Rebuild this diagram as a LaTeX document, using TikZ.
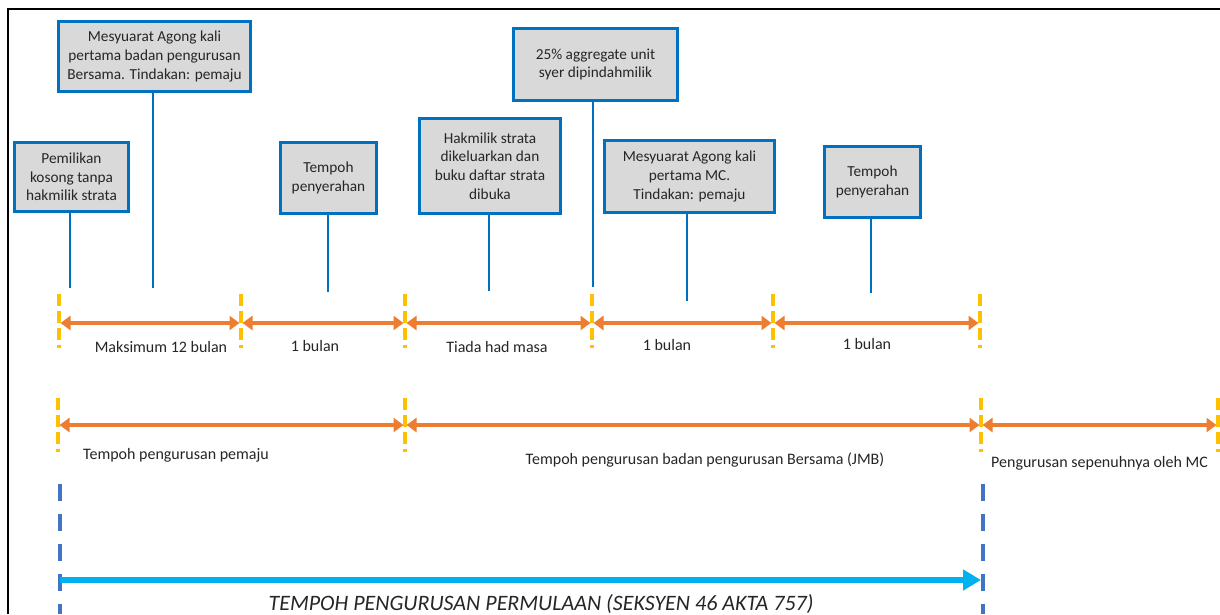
\documentclass[tikz,border=0pt]{standalone}
\usepackage{fontspec}
\setmainfont{Carlito}
\usetikzlibrary{arrows.meta}
\definecolor{boxblue}{HTML}{0070C0}
\definecolor{boxgray}{HTML}{D9D9D9}
\definecolor{orng}{HTML}{ED7D31}
\definecolor{gold}{HTML}{FFC000}
\definecolor{dblue}{HTML}{4472C4}
\definecolor{cyanb}{HTML}{00B0F0}
\definecolor{txt}{HTML}{262626}
\tikzset{
  evbox/.style={draw=boxblue, line width=3pt, fill=boxgray, align=center, inner sep=0pt,
    font=\fontsize{15.3}{18.7}\selectfont, text=txt},
  stem/.style={draw=boxblue, line width=2.8pt},
  tick/.style={draw=gold, line width=3.5pt, dash pattern=on 12pt off 5pt},
  span/.style={draw=orng, line width=3.5pt, {Triangle[length=10pt,width=14pt]}-{Triangle[length=10pt,width=14pt]}, shorten <=1.5pt, shorten >=1.5pt},
  lbl/.style={font=\fontsize{16}{18}\selectfont, text=txt, inner sep=0pt},
  bigtick/.style={draw=dblue, line width=4pt, dash pattern=on 17pt off 13pt},
}
\begin{document}
\begin{tikzpicture}[x=1pt,y=-1pt]
\useasboundingbox (0,0) rectangle (1220,614);
\fill[white] (0,0) rectangle (1220,614);
% frame
\draw[line width=1.2pt, black] (8,614) -- (8,9) -- (1220,9);

% boxes
\node[evbox, minimum width=114pt, minimum height=69pt] (b1) at (71.5,177) {Pemilikan\\kosong tanpa\\hakmilik strata};
\node[evbox, minimum width=192pt, minimum height=70pt] (b2) at (154.5,56.5) {Mesyuarat Agong kali\\pertama badan pengurusan\\Bersama. Tindakan: pemaju};
\node[evbox, minimum width=96pt, minimum height=71pt] (b3) at (328.5,178) {Tempoh\\penyerahan};
\node[evbox, minimum width=141pt, minimum height=95pt] (b4) at (490,166) {Hakmilik strata\\dikeluarkan dan\\buku daftar strata\\dibuka};
\node[evbox, minimum width=164pt, minimum height=72pt] (b5) at (595.5,64.5) {25\% aggregate unit\\syer dipindahmilik};
\node[evbox, minimum width=170pt, minimum height=72pt] (b6) at (689.5,176.5) {Mesyuarat Agong kali\\pertama MC.\\Tindakan: pemaju};
\node[evbox, minimum width=96pt, minimum height=71pt] (b7) at (872.5,182) {Tempoh\\penyerahan};

% stem ends
\coordinate (s1) at (70,288);
\coordinate (s2) at (153,288);
\coordinate (s3) at (328,292);
\coordinate (s4) at (489,291);
\coordinate (s5) at (593,287);
\coordinate (s6) at (687,301);
\coordinate (s7) at (871,293);
\draw[stem] (b1.south -| s1) -- (s1);
\draw[stem] (b2.south -| s2) -- (s2);
\draw[stem] (b3.south -| s3) -- (s3);
\draw[stem] (b4.south -| s4) -- (s4);
\draw[stem] (b5.south -| s5) -- (s5);
\draw[stem] (b6.south -| s6) -- (s6);
\draw[stem] (b7.south -| s7) -- (s7);

% row 1 ticks
\foreach \n/\x in {1/59,2/241,3/405,4/592,5/773,6/980}{
  \coordinate (t\n) at (\x,323);
  \draw[tick] (\x,294) -- (\x,348);
}
\draw[span] (t1) -- (t2);
\draw[span] (t2) -- (t3);
\draw[span] (t3) -- (t4);
\draw[span] (t4) -- (t5);
\draw[span] (t5) -- (t6);
\node[lbl] (l1) at (161,347) {Maksimum 12 bulan};
\node[lbl] (l2) at (315,346) {1 bulan};
\node[lbl] (l3) at (497,347) {Tiada had masa};
\node[lbl] (l4) at (667,345) {1 bulan};
\node[lbl] (l5) at (867,344) {1 bulan};

% row 2 ticks
\foreach \n/\x in {1/58,2/405,3/981,4/1218}{
  \coordinate (u\n) at (\x,425);
  \draw[tick] (\x,398) -- (\x,452);
}
\draw[span] (u1) -- (u2);
\draw[span] (u2) -- (u3);
\draw[span] (u3) -- (u4);
\node[lbl, anchor=west] (m1) at (83,455) {Tempoh pengurusan pemaju};
\node[lbl] (m2) at (705,460) {Tempoh pengurusan badan pengurusan Bersama (JMB)};
\node[lbl, anchor=west] (m3) at (991,463) {Pengurusan sepenuhnya oleh MC};

% bottom
\coordinate (v1) at (60,580);
\coordinate (v2) at (983,580);
\draw[bigtick] (60,484) -- (60,614);
\draw[bigtick] (983,484) -- (983,614);
\draw[draw=cyanb, line width=6pt, -{Triangle[length=18pt,width=20pt]}, shorten >=2pt] (v1) -- (v2);
\node[font=\fontsize{22}{24}\selectfont\itshape, text=txt, inner sep=0pt] (title) at (541,604) {TEMPOH PENGURUSAN PERMULAAN (SEKSYEN 46 AKTA 757)};
\end{tikzpicture}
\end{document}
